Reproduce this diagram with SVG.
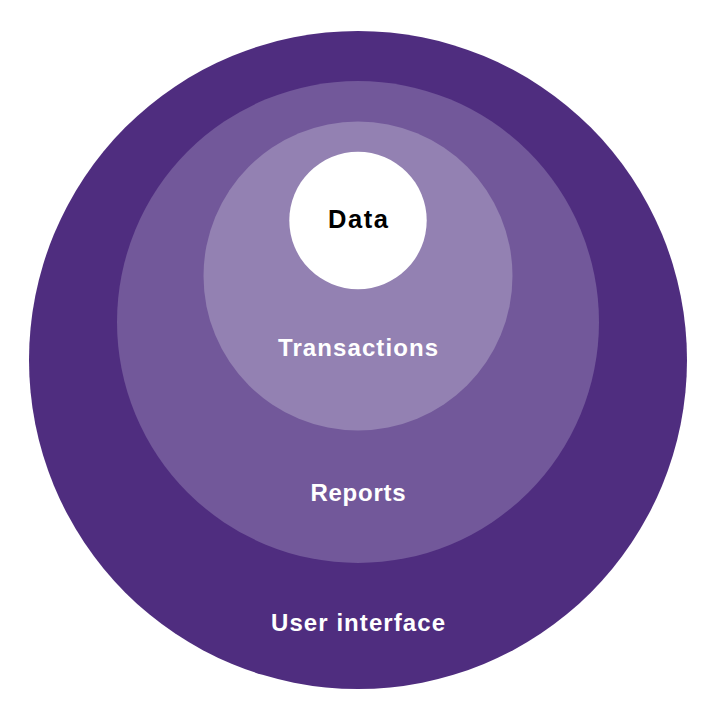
<svg xmlns="http://www.w3.org/2000/svg" width="716" height="723" viewBox="0 0 716 723">
<style>
.lbl{font-family:"Liberation Sans",Arial,sans-serif;font-weight:bold;font-size:24px;text-anchor:middle}
.w{fill:#ffffff}
.k{fill:#000000}
</style>
<rect width="716" height="723" fill="#ffffff"/>
<g id="user-interface">
<circle cx="358" cy="360" r="329" fill="#4F2D7F"/>
<text class="lbl w" x="358" y="631" textLength="174" lengthAdjust="spacing">User interface</text>
</g>
<g id="reports">
<circle cx="358" cy="322" r="241" fill="#72589A"/>
<text class="lbl w" x="358" y="501" textLength="95" lengthAdjust="spacing">Reports</text>
</g>
<g id="transactions">
<circle cx="358" cy="276" r="154.5" fill="#9381B2"/>
<text class="lbl w" x="358" y="356" textLength="160" lengthAdjust="spacing">Transactions</text>
</g>
<g id="data">
<circle cx="358" cy="220.5" r="68.7" fill="#ffffff"/>
<text class="lbl k" x="358" y="227.5" style="font-size:25.5px" textLength="60" lengthAdjust="spacing">Data</text>
</g>
<g id="connectors"></g>
</svg>
